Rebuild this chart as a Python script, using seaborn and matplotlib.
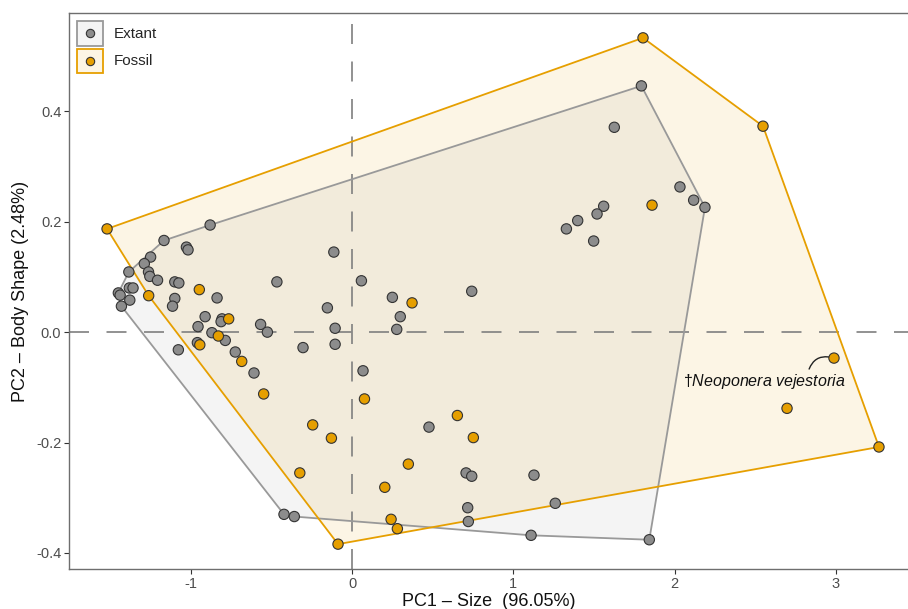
import numpy as np
import pandas as pd
import matplotlib
matplotlib.use("Agg")
import matplotlib.pyplot as plt
from matplotlib.patches import Patch
from matplotlib.lines import Line2D
from matplotlib.legend_handler import HandlerTuple, HandlerBase
import seaborn as sns

# PC scores
extant_pc1 = [-0.880, -1.166, -1.027, -1.017, -1.249, -1.288, -1.384, -1.262, -1.254, -1.206,
              -1.099, -1.074, -1.381, -1.358, -1.449, -1.438, -1.378, -1.430, -1.099, -1.113,
              -0.837, -0.466, -0.911, -0.806, -0.812, -0.955, -0.869, -0.786, -0.959, -1.077,
              -0.724, -0.608, -0.567, -0.525, -0.304, -0.153, -0.105, -0.105, 0.058, 0.250,
              0.299, 0.277, 0.068, 0.477, -0.422, -0.358, -0.113, 0.742, 0.707, 0.742,
              1.128, 0.717, 0.721, 1.260, 1.110, 1.843, 1.794, 1.626, 2.033, 2.118,
              2.188, 1.560, 1.519, 1.399, 1.329, 1.498]
extant_pc2 = [0.194, 0.166, 0.154, 0.149, 0.136, 0.124, 0.109, 0.109, 0.101, 0.094,
              0.091, 0.089, 0.080, 0.080, 0.071, 0.067, 0.058, 0.047, 0.061, 0.047,
              0.062, 0.091, 0.028, 0.024, 0.019, 0.010, -0.001, -0.015, -0.019, -0.032,
              -0.036, -0.074, 0.014, 0.000, -0.028, 0.044, 0.007, -0.022, 0.093, 0.063,
              0.028, 0.005, -0.070, -0.172, -0.330, -0.334, 0.145, 0.074, -0.255, -0.261,
              -0.259, -0.318, -0.343, -0.310, -0.368, -0.376, 0.446, 0.371, 0.263, 0.239,
              0.226, 0.228, 0.214, 0.202, 0.187, 0.165]

fossil_pc1 = [-1.519, 1.804, 2.548, 3.267, 2.988, 2.697, 1.860, 0.372, -0.087, -1.261,
              -0.947, -0.765, -0.829, -0.944, -0.684, -0.548, -0.244, -0.128, -0.324, 0.077,
              0.349, 0.203, 0.242, 0.281, 0.653, 0.752]
fossil_pc2 = [0.187, 0.533, 0.373, -0.208, -0.047, -0.138, 0.230, 0.053, -0.384, 0.066,
              0.077, 0.024, -0.007, -0.023, -0.053, -0.112, -0.168, -0.192, -0.255, -0.121,
              -0.239, -0.281, -0.339, -0.356, -0.151, -0.191]

groups = ["Extant", "Fossil"]
point_colors = {"Extant": "#8c8c8c", "Fossil": "#E69F00"}
hull_colors = {"Extant": "#999999", "Fossil": "#E69F00"}
label_taxon = "Neoponera vejestoria"
label_idx = 4  # fossil point carrying the label

df = pd.DataFrame({
    "PC1": extant_pc1 + fossil_pc1,
    "PC2": extant_pc2 + fossil_pc2,
    "group": ["Extant"] * len(extant_pc1) + ["Fossil"] * len(fossil_pc1),
})


def convex_hull(pts):
    """Monotone chain hull, returns closed polygon."""
    pts = sorted(map(tuple, pts))

    def cross(o, a, b):
        return (a[0] - o[0]) * (b[1] - o[1]) - (a[1] - o[1]) * (b[0] - o[0])

    lower, upper = [], []
    for p in pts:
        while len(lower) >= 2 and cross(lower[-2], lower[-1], p) <= 0:
            lower.pop()
        lower.append(p)
    for p in reversed(pts):
        while len(upper) >= 2 and cross(upper[-2], upper[-1], p) <= 0:
            upper.pop()
        upper.append(p)
    hull = lower[:-1] + upper[:-1]
    hull.append(hull[0])
    return np.array(hull)


class CenteredDot(HandlerBase):
    """Legend dot placed in the middle of the key box."""
    def create_artists(self, legend, orig, xdescent, ydescent, width, height, fontsize, trans):
        dot = Line2D([width / 2 - xdescent], [height / 2 - ydescent], marker="o", ls="")
        dot.update_from(orig)
        dot.set_transform(trans)
        return [dot]


sns.set_theme(style="white")
plt.rcParams["font.family"] = ["Liberation Sans", "DejaVu Sans"]
plt.rcParams["mathtext.fontset"] = "custom"
plt.rcParams["mathtext.it"] = "Liberation Sans:italic"
plt.rcParams["mathtext.rm"] = "Liberation Sans"

fig = plt.figure(figsize=(9.08, 6.09), dpi=100)
ax = fig.add_axes([69 / 908, 40 / 609, 1 - 69 / 908, 556 / 609])

# hulls
for g in groups:
    sub = df[df.group == g]
    h = convex_hull(sub[["PC1", "PC2"]].values)
    ax.fill(h[:, 0], h[:, 1], color=hull_colors[g], alpha=0.1, lw=0, zorder=1)
    ax.plot(h[:, 0], h[:, 1], color=hull_colors[g], lw=1.3, zorder=2)

ax.axhline(0, color="#7f7f7f", lw=1.2, ls=(0, (12, 10.5)), zorder=1.5)
ax.axvline(0, color="#7f7f7f", lw=1.2, ls=(0, (12, 10.5)), zorder=1.5)

sns.scatterplot(data=df, x="PC1", y="PC2", hue="group", palette=point_colors,
                s=55, edgecolor="#333333", linewidth=0.8, legend=False, ax=ax, zorder=3)

# label for the Neoponera fossil
px, py = fossil_pc1[label_idx], fossil_pc2[label_idx]
ax.annotate("†$\\mathit{" + label_taxon.replace(" ", "\\ ") + "}$",
            xy=(px, py), xytext=(2.555, -0.090), ha="center", va="center",
            fontsize=11.5, color="#111111", zorder=4,
            arrowprops=dict(arrowstyle="-", color="#222222", lw=1.0,
                            connectionstyle="arc3,rad=-0.5", relpos=(0.77, 1.0),
                            shrinkA=0, shrinkB=4))

ax.set_xlim(-1.755, 3.447)
ax.set_ylim(-0.429, 0.578)
ax.set_xticks([-1, 0, 1, 2, 3])
ax.set_yticks([-0.4, -0.2, 0.0, 0.2, 0.4])
ax.set_yticklabels(["-0.4", "-0.2", "0.0", "0.2", "0.4"])
ax.set_xticklabels(["-1", "0", "1", "2", "3"])
ax.tick_params(axis="both", which="both", bottom=True, left=True, length=3.5, width=0.8,
               color="#333333", labelsize=10.5, labelcolor="#4d4d4d", pad=2)
ax.set_xlabel("PC1 – Size  (96.05%)", fontsize=13, color="#111111", labelpad=1.5)
ax.set_ylabel("PC2 – Body Shape (2.48%)", fontsize=13, color="#111111", labelpad=5)

for side in ["left", "bottom", "top"]:
    ax.spines[side].set_color("#6e6e6e")
    ax.spines[side].set_linewidth(1.0)
ax.spines["right"].set_visible(False)

handles = []
for g in groups:
    box = Patch(facecolor=hull_colors[g], alpha=0.1, edgecolor="none")
    edge = Patch(facecolor="none", edgecolor=hull_colors[g], lw=1.3)
    dot = Line2D([], [], marker="o", ls="", markersize=6, markerfacecolor=point_colors[g],
                 markeredgecolor="#333333", markeredgewidth=0.8)
    handles.append((box, edge, dot))
ax.legend(handles, groups,
          handler_map={tuple: HandlerTuple(ndivide=1, pad=0), Line2D: CenteredDot()},
          loc="upper left", bbox_to_anchor=(0.0, 1.0), frameon=False, fontsize=11,
          handlelength=1.65, handleheight=2.05, labelspacing=0.2, handletextpad=0.75,
          borderaxespad=0.45, borderpad=0.1)

fig.savefig("out.png", dpi=100)
